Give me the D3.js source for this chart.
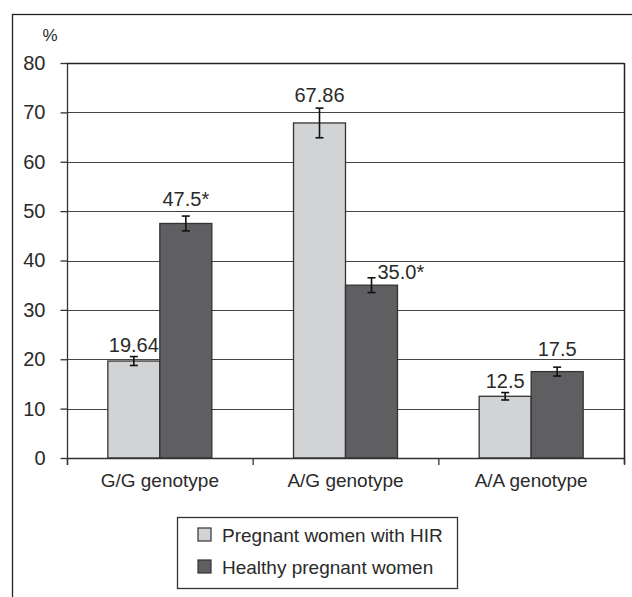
<!DOCTYPE html>
<html>
<head>
<meta charset="utf-8">
<script src="https://cdn.jsdelivr.net/npm/d3@7"></script>
<style>
  body { margin: 0; background: #fff; }
  svg { display: block; font-family: "Liberation Sans", Arial, sans-serif; }
</style>
</head>
<body>
<svg id="chart"></svg>
<script>
// Data
const categories = ['G/G genotype', 'A/G genotype', 'A/A genotype'];
const seriesNames = ['Pregnant women with HIR', 'Healthy pregnant women'];
const hirValues = [19.64, 67.86, 12.5];
const healthyValues = [47.5, 35.0, 17.5];
const hirErrors = [0.9, 3.0, 0.75];
const healthyErrors = [1.5, 1.5, 0.9];
const hirLabels = ['19.64', '67.86', '12.5'];
const healthyLabels = ['47.5*', '35.0*', '17.5'];
const yTicks = [0, 10, 20, 30, 40, 50, 60, 70, 80];

const colors = ['#d2d3d5', '#5f5f61'];
const textColor = '#2a2a2a';
const font = '"Liberation Sans", Arial, sans-serif';

const W = 632, H = 597;
const plot = { left: 67, right: 624, top: 63, bottom: 458 };
const barW = 52;

const svg = d3.select('#chart').attr('width', W).attr('height', H);

// outer frame (runs off the right and bottom edges)
svg.append('rect')
  .attr('x', 12.5).attr('y', 14.5)
  .attr('width', 640).attr('height', 620)
  .attr('fill', 'none').attr('stroke', '#222').attr('stroke-width', 1.3);

const x = d3.scaleBand()
  .domain(categories)
  .range([plot.left, plot.right]);

const y = d3.scaleLinear()
  .domain([0, 80])
  .range([plot.bottom, plot.top]);

// gridlines
svg.append('g')
  .selectAll('line')
  .data(yTicks.filter(d => d > 0))
  .join('line')
  .attr('x1', plot.left).attr('x2', plot.right)
  .attr('y1', d => Math.round(y(d)) + 0.5).attr('y2', d => Math.round(y(d)) + 0.5)
  .attr('stroke', d => d === 80 ? '#222' : '#444')
  .attr('stroke-width', d => d === 80 ? 1.5 : 1.2);

// right border of plot area
svg.append('line')
  .attr('x1', plot.right + 0.5).attr('x2', plot.right + 0.5)
  .attr('y1', plot.top).attr('y2', plot.bottom + 6)
  .attr('stroke', '#222').attr('stroke-width', 1.5);

// y axis
const yAxis = svg.append('g')
  .attr('transform', `translate(${plot.left + 0.5},0)`)
  .call(d3.axisLeft(y).tickValues(yTicks).tickSize(7).tickSizeOuter(0).tickPadding(15));
yAxis.select('.domain').remove();
yAxis.append('line')
  .attr('y1', plot.top).attr('y2', plot.bottom + 7)
  .attr('stroke', '#333').attr('stroke-width', 1.3);
yAxis.selectAll('.tick line').attr('stroke', '#333').attr('stroke-width', 1.3);
yAxis.attr('font-size', 20).attr('font-family', font);
yAxis.selectAll('.tick text').attr('fill', textColor);

svg.append('text')
  .attr('x', 50).attr('y', 41)
  .attr('text-anchor', 'middle')
  .attr('font-size', 17).attr('fill', textColor)
  .text('%');

// bars
const groups = svg.append('g')
  .selectAll('g')
  .data(categories)
  .join('g')
  .attr('transform', d => `translate(${x(d) + x.bandwidth() / 2},0)`);

const rows = categories.map((c, i) => [
  { s: 0, v: hirValues[i], e: hirErrors[i], label: hirLabels[i] },
  { s: 1, v: healthyValues[i], e: healthyErrors[i], label: healthyLabels[i] }
]);

groups.selectAll('rect')
  .data((d, i) => rows[i])
  .join('rect')
  .attr('x', d => d.s === 0 ? -barW : 0)
  .attr('y', d => y(d.v))
  .attr('width', barW)
  .attr('height', d => y(0) - y(d.v))
  .attr('fill', d => colors[d.s])
  .attr('stroke', '#333')
  .attr('stroke-width', 1.3);

// x axis baseline
svg.append('line')
  .attr('x1', plot.left).attr('x2', plot.right)
  .attr('y1', plot.bottom + 0.5).attr('y2', plot.bottom + 0.5)
  .attr('stroke', '#333').attr('stroke-width', 1.3);

// category boundary ticks
const boundaries = categories.map(c => x(c)).concat([x.range()[1]]);
svg.append('g')
  .selectAll('line')
  .data(boundaries)
  .join('line')
  .attr('x1', d => d + 0.5).attr('x2', d => d + 0.5)
  .attr('y1', plot.bottom).attr('y2', plot.bottom + 7)
  .attr('stroke', '#333').attr('stroke-width', 1.3);

// category labels
const xAxis = svg.append('g')
  .attr('transform', `translate(0,${plot.bottom})`)
  .call(d3.axisBottom(x).tickSize(0).tickPadding(29));
xAxis.select('.domain').remove();
xAxis.attr('font-size', 19).attr('font-family', font);
xAxis.selectAll('.tick text').attr('dy', 0).attr('fill', textColor);

// error bars
const cap = 4;
const errG = groups.selectAll('g.err')
  .data((d, i) => rows[i])
  .join('g')
  .attr('class', 'err')
  .attr('transform', d => `translate(${d.s === 0 ? -barW / 2 : barW / 2},0)`)
  .attr('stroke', '#111').attr('stroke-width', 1.6);
errG.append('line')
  .attr('y1', d => y(d.v + d.e)).attr('y2', d => y(d.v - d.e));
errG.append('line')
  .attr('x1', -cap).attr('x2', cap)
  .attr('y1', d => y(d.v + d.e)).attr('y2', d => y(d.v + d.e));
errG.append('line')
  .attr('x1', -cap).attr('x2', cap)
  .attr('y1', d => y(d.v - d.e)).attr('y2', d => y(d.v - d.e));

// value labels (nudges as in the original figure)
const nudges = [
  [{ dx: 0, dy: -5 }, { dx: 0, dy: -10 }],
  [{ dx: 0, dy: -6 }, { dx: 6, dy: 1 }],
  [{ dx: 0, dy: -5 }, { dx: 0, dy: -11 }]
];
groups.selectAll('text.val')
  .data((d, i) => rows[i].map(r => ({ ...r, n: nudges[i][r.s] })))
  .join('text')
  .attr('class', 'val')
  .attr('x', d => (d.s === 0 ? -barW / 2 : barW / 2) + d.n.dx)
  .attr('y', d => y(d.v + d.e) + d.n.dy)
  .attr('text-anchor', d => d.n.dx > 0 ? 'start' : 'middle')
  .attr('font-size', 20)
  .attr('fill', textColor)
  .text(d => d.label);

// legend
const legend = svg.append('g').attr('transform', 'translate(177,517)');
legend.append('rect')
  .attr('x', 0.5).attr('y', 0.5)
  .attr('width', 280).attr('height', 71)
  .attr('fill', '#fff').attr('stroke', '#333').attr('stroke-width', 1.3);
const items = legend.selectAll('g.item')
  .data(seriesNames)
  .join('g')
  .attr('class', 'item')
  .attr('transform', (d, i) => `translate(21,${11 + i * 32})`);
items.append('rect')
  .attr('width', 13).attr('height', 13)
  .attr('fill', (d, i) => colors[i])
  .attr('stroke', '#333').attr('stroke-width', 1.2);
items.append('text')
  .attr('x', 24).attr('y', 14)
  .attr('font-size', 19).attr('fill', textColor)
  .text(d => d);
</script>
</body>
</html>
